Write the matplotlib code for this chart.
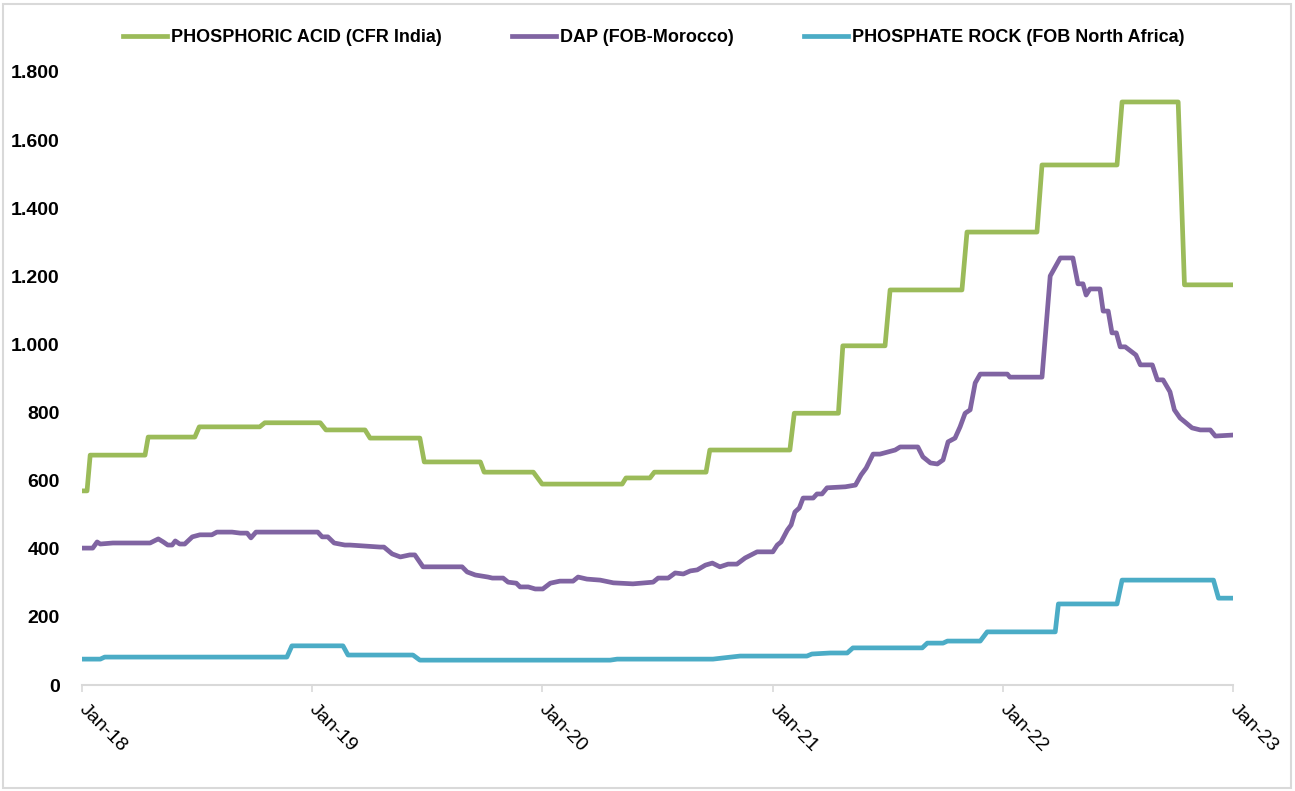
import pandas as pd
import matplotlib
matplotlib.use('Agg')
import matplotlib.pyplot as plt
import matplotlib.dates as mdates
from matplotlib.patches import Rectangle
from matplotlib.ticker import FuncFormatter

plt.rcParams['font.family'] = ['Liberation Sans', 'DejaVu Sans']

# PHOSPHORIC ACID (CFR India) - USD/t
acid_dates = ['2018-01-01', '2018-01-09', '2018-01-14', '2018-04-11', '2018-04-16',
              '2018-06-29', '2018-07-06', '2018-10-10', '2018-10-18', '2019-01-14',
              '2019-01-23', '2019-03-26', '2019-04-03', '2019-06-21', '2019-06-28',
              '2019-09-25', '2019-10-01', '2019-12-18', '2020-01-01', '2020-05-07',
              '2020-05-13', '2020-06-20', '2020-06-27', '2020-09-17', '2020-09-23',
              '2021-01-28', '2021-02-04', '2021-04-15', '2021-04-22', '2021-06-28',
              '2021-07-06', '2021-10-28', '2021-11-05', '2022-02-24', '2022-03-04',
              '2022-07-01', '2022-07-09', '2022-10-06', '2022-10-16', '2023-01-01']
acid_values = [570, 570, 675, 675, 728,
               728, 758, 758, 770, 770,
               749, 749, 725, 725, 655,
               655, 625, 625, 590, 590,
               608, 608, 625, 625, 690,
               690, 798, 798, 996, 996,
               1160, 1160, 1330, 1330, 1527,
               1527, 1712, 1712, 1175, 1175]

# DAP (FOB-Morocco)
dap_dates = ['2018-01-01', '2018-01-18', '2018-01-25', '2018-01-30', '2018-02-19',
             '2018-04-19', '2018-05-02', '2018-05-10', '2018-05-17', '2018-05-24',
             '2018-05-29', '2018-06-05', '2018-06-13', '2018-06-25', '2018-07-07',
             '2018-07-26', '2018-08-03', '2018-08-27', '2018-09-09', '2018-09-20',
             '2018-09-26', '2018-10-04', '2019-01-10', '2019-01-17', '2019-01-26',
             '2019-02-05', '2019-02-22', '2019-03-02', '2019-04-19', '2019-04-25',
             '2019-05-08', '2019-05-21', '2019-06-05', '2019-06-13', '2019-06-26',
             '2019-08-27', '2019-09-04', '2019-09-17', '2019-10-07', '2019-10-14',
             '2019-10-31', '2019-11-08', '2019-11-21', '2019-11-27', '2019-12-10',
             '2019-12-21', '2020-01-02', '2020-01-14', '2020-01-29', '2020-02-19',
             '2020-02-27', '2020-03-12', '2020-04-02', '2020-04-23', '2020-05-24',
             '2020-06-25', '2020-07-03', '2020-07-19', '2020-07-30', '2020-08-12',
             '2020-08-23', '2020-09-03', '2020-09-16', '2020-09-27', '2020-10-09',
             '2020-10-22', '2020-11-05', '2020-11-18', '2020-12-07', '2021-01-01',
             '2021-01-08', '2021-01-14', '2021-01-24', '2021-01-30', '2021-02-05',
             '2021-02-12', '2021-02-18', '2021-03-06', '2021-03-12', '2021-03-20',
             '2021-03-28', '2021-04-26', '2021-05-12', '2021-05-21', '2021-05-29',
             '2021-06-09', '2021-06-20', '2021-07-14', '2021-07-22', '2021-08-19',
             '2021-08-27', '2021-09-08', '2021-09-19', '2021-09-28', '2021-10-06',
             '2021-10-17', '2021-10-25', '2021-11-02', '2021-11-10', '2021-11-18',
             '2021-11-26', '2022-01-08', '2022-01-12', '2022-03-04', '2022-03-17',
             '2022-04-02', '2022-04-22', '2022-04-30', '2022-05-08', '2022-05-13',
             '2022-05-19', '2022-06-04', '2022-06-09', '2022-06-17', '2022-06-23',
             '2022-06-30', '2022-07-06', '2022-07-14', '2022-07-31', '2022-08-07',
             '2022-08-26', '2022-09-03', '2022-09-12', '2022-09-23', '2022-09-30',
             '2022-10-09', '2022-10-17', '2022-10-28', '2022-11-10', '2022-11-26',
             '2022-12-04', '2023-01-01']
dap_values = [402, 402, 420, 414, 417,
              417, 429, 420, 411, 411,
              423, 414, 414, 435, 441,
              441, 449, 449, 446, 446,
              432, 449, 449, 435, 435,
              417, 411, 411, 405, 405,
              385, 376, 382, 382, 347,
              347, 332, 323, 317, 314,
              314, 302, 299, 288, 288,
              282, 282, 299, 305, 305,
              317, 311, 308, 300, 297,
              302, 314, 314, 329, 326,
              335, 338, 352, 358, 347,
              355, 355, 373, 391, 391,
              411, 420, 455, 470, 508,
              520, 549, 549, 561, 561,
              579, 582, 587, 617, 637,
              678, 678, 690, 699, 699,
              670, 652, 649, 661, 714,
              725, 758, 798, 808, 887,
              913, 913, 904, 904, 1201,
              1254, 1254, 1178, 1178, 1145,
              1163, 1163, 1098, 1098, 1034,
              1034, 993, 993, 969, 940,
              940, 896, 896, 861, 808,
              784, 772, 755, 749, 749,
              731, 734]

# PHOSPHATE ROCK (FOB North Africa)
rock_dates = ['2018-01-01', '2018-01-30', '2018-02-06', '2018-11-22', '2018-11-30',
              '2019-02-19', '2019-02-27', '2019-06-10', '2019-06-21', '2020-04-18',
              '2020-04-29', '2020-09-28', '2020-10-12', '2020-11-10', '2021-02-24',
              '2021-03-04', '2021-04-02', '2021-04-29', '2021-05-08', '2021-08-26',
              '2021-09-03', '2021-09-28', '2021-10-05', '2021-11-26', '2021-12-07',
              '2022-03-25', '2022-03-30', '2022-07-01', '2022-07-09', '2022-12-01',
              '2022-12-09', '2023-01-01']
rock_values = [76, 76, 82, 82, 115,
               115, 88, 88, 73, 73,
               76, 76, 79, 85, 85,
               91, 94, 94, 109, 109,
               123, 123, 129, 129, 156,
               156, 238, 238, 308, 308,
               255, 255]

fig = plt.figure(figsize=(12.95, 7.91), dpi=100)
ax = fig.add_axes([82 / 1295, 1 - 685 / 791, (1233 - 82) / 1295, (685 - 72) / 791])

ax.plot(pd.to_datetime(acid_dates), acid_values, color='#9BBB59', lw=3.4,
        label='PHOSPHORIC ACID (CFR India)', solid_joinstyle='round')
ax.plot(pd.to_datetime(dap_dates), dap_values, color='#8064A2', lw=3.4,
        label='DAP (FOB-Morocco)', solid_joinstyle='round')
ax.plot(pd.to_datetime(rock_dates), rock_values, color='#4BACC6', lw=3.4,
        label='PHOSPHATE ROCK (FOB North Africa)', solid_joinstyle='round')

ax.set_xlim(pd.Timestamp('2018-01-01'), pd.Timestamp('2023-01-01'))
ax.set_ylim(0, 1800)
ax.set_yticks(range(0, 1801, 200))
ax.yaxis.set_major_formatter(FuncFormatter(lambda v, p: f'{int(v):,}'.replace(',', '.')))
ax.xaxis.set_major_locator(mdates.YearLocator())
ax.xaxis.set_major_formatter(mdates.DateFormatter('%b-%y'))

for s in ['top', 'right', 'left']:
    ax.spines[s].set_visible(False)
ax.spines['bottom'].set_color('#d9d9d9')
ax.spines['bottom'].set_linewidth(1.5)
ax.tick_params(axis='y', length=0, pad=16, labelsize=14)
ax.tick_params(axis='x', length=5, width=1.2, color='#d9d9d9', pad=11, labelsize=14)
for lab in ax.get_yticklabels():
    lab.set_fontweight('bold')
for lab in ax.get_xticklabels():
    lab.set_rotation(-45)
    lab.set_ha('left')
    lab.set_va('center')
    lab.set_rotation_mode('anchor')

ax.legend(loc='center', bbox_to_anchor=(654 / 1295, 1 - 38 / 791), bbox_transform=fig.transFigure,
          ncol=3, frameon=False, handlelength=2.4, handletextpad=0.25, columnspacing=3.9,
          prop={'weight': 'bold', 'size': 13})

fig.patches.append(Rectangle((3 / 1295, 3 / 791), 1288 / 1295, 784 / 791, transform=fig.transFigure,
                             fill=False, edgecolor='#d9d9d9', lw=1.5))

fig.savefig('out.png', dpi=100)
